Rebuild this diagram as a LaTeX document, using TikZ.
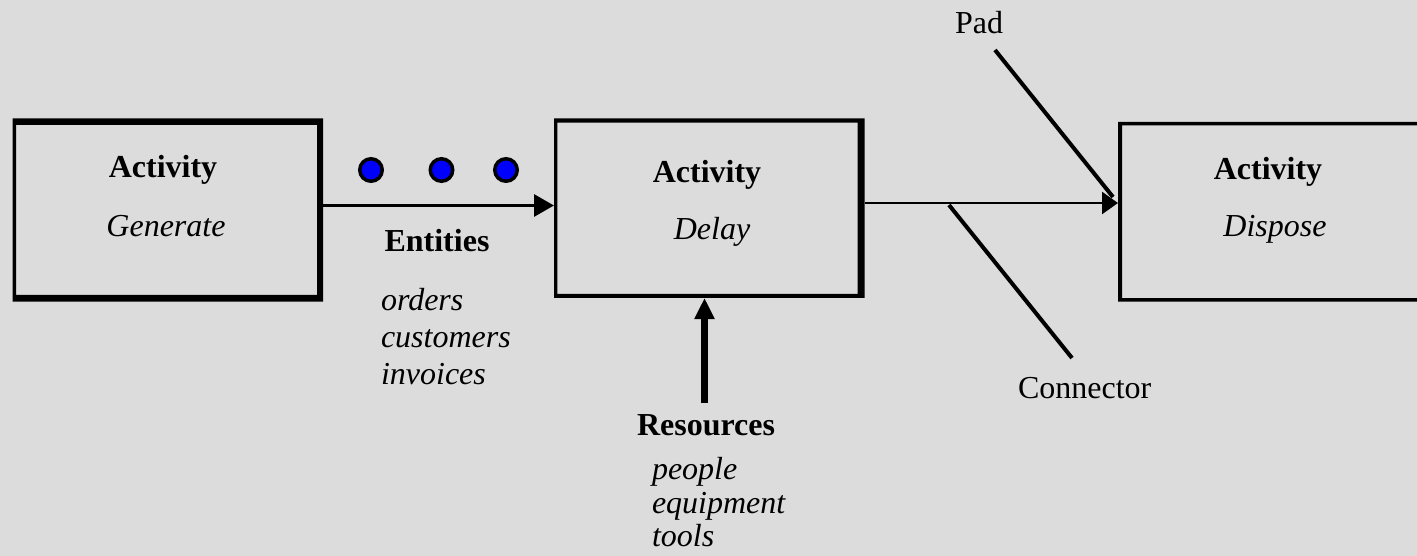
\documentclass[tikz,border=0pt]{standalone}
\usepackage{fontspec}
\setmainfont{Liberation Serif}
\usetikzlibrary{arrows.meta}
\definecolor{bg}{RGB}{220,220,220}
\definecolor{dotblue}{RGB}{0,0,255}
\begin{document}
\begin{tikzpicture}[x=1pt,y=-1pt,
  every node/.style={inner sep=0pt, outer sep=0pt},
  txt/.style={font=\fontsize{32}{36}\selectfont},
  btxt/.style={font=\fontsize{32}{36}\selectfont\bfseries},
  itxt/.style={font=\fontsize{32}{36}\selectfont\itshape},
  boxarea/.style={rectangle, draw=none},
  entity/.style={circle, draw=black, fill=dotblue, line width=3.5pt, minimum size=22.5pt},
  stroke/.style={line width=4pt, line cap=butt}
]
\useasboundingbox (0,0) rectangle (1417,556);
\fill[bg] (0,0) rectangle (1417,556);
\clip (0,0) rectangle (1417,556);

% boxes (outer extents)
\node[boxarea, minimum width=310.5pt, minimum height=183.4pt] (b1) at (167.75,210) {};
\node[boxarea, minimum width=310.5pt, minimum height=179.7pt] (b2) at (709.25,208.15) {};
\node[boxarea, minimum width=322pt, minimum height=179.7pt] (b3) at (1279,211.85) {};

\fill[black, even odd rule] (b1.north west) rectangle (b1.south east)
  ([xshift=3.5pt,yshift=-6.7pt]b1.north west) rectangle ([xshift=-6pt,yshift=6.7pt]b1.south east);
\fill[black, even odd rule] (b2.north west) rectangle (b2.south east)
  ([xshift=3.3pt,yshift=-4.3pt]b2.north west) rectangle ([xshift=-7pt,yshift=4pt]b2.south east);
\fill[black, even odd rule] (b3.north west) rectangle (b3.south east)
  ([xshift=4pt,yshift=-3.3pt]b3.north west) rectangle ([xshift=-4pt,yshift=3.7pt]b3.south east);

% box texts
\node[btxt, anchor=base] (a1) at (163,178) {Activity};
\node[itxt, anchor=base] (g1) at (166,237) {Generate};
\node[btxt, anchor=base] (a2) at (707,183) {Activity};
\node[itxt, anchor=base] (g2) at (712,240) {Delay};
\node[btxt, anchor=base] (a3) at (1268,180) {Activity};
\node[itxt, anchor=base] (g3) at (1275,237) {Dispose};

% entities
\node[entity] (d1) at (371,170) {};
\node[entity] (d2) at (441.5,170) {};
\node[entity] (d3) at (506,170) {};

\node[btxt, anchor=base] (ent) at (437,252) {Entities};
\node[itxt, anchor=base west] (e1) at (381,310) {orders};
\node[itxt, anchor=base west] (e2) at (381,347) {customers};
\node[itxt, anchor=base west] (e3) at (381,384) {invoices};

\node[btxt, anchor=base west] (res) at (637,435) {Resources};
\node[itxt, anchor=base west] (r1) at (652,479) {people};
\node[itxt, anchor=base west] (r2) at (652,513) {equipment};
\node[itxt, anchor=base west] (r3) at (652,546) {tools};

\node[txt, anchor=base west] (pad) at (955,34) {Pad};
\node[txt, anchor=base west] (con) at (1018,398) {Connector};

% connectors
\coordinate (y1) at (0,205.5);
\coordinate (y2) at (0,203);
\draw[line width=3pt, -{Triangle[length=20pt,width=22pt]}] (b1.east |- y1) -- (b2.west |- y1);
\draw[line width=2.5pt, -{Triangle[length=16pt,width=22pt]}] (b2.east |- y2) -- (b3.west |- y2);
\coordinate (rtail) at (704.5,403);
\draw[line width=7pt, -{Triangle[length=21pt,width=19pt]}] (rtail) -- (rtail |- b2.south);

\coordinate (padstart) at (995,50);
\coordinate (padend) at (1113,197);
\draw[stroke] (padstart) -- (padend);
\coordinate (constart) at (949,205);
\coordinate (conend) at (1072,358);
\draw[stroke] (constart) -- (conend);
\end{tikzpicture}
\end{document}
